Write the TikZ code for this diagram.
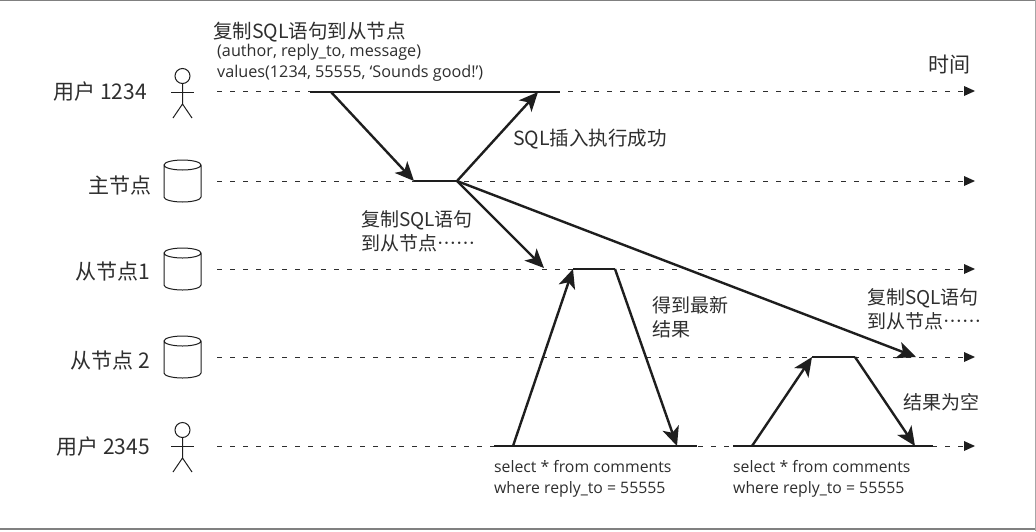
\documentclass[tikz,border=0pt]{standalone}
\usepackage{fontspec}
\setmainfont{Open Sans}
\newfontfamily\cjk{Noto Sans CJK SC}[Script=CJK,Language=Chinese Simplified]
\usetikzlibrary{arrows.meta}
\definecolor{ink}{HTML}{1E1E1E}
\definecolor{soft}{HTML}{2E2E2E}
\tikzset{
  x=1pt,y=-1pt,
  lab/.style={inner sep=0pt,text=soft,font=\fontsize{21}{24}\selectfont\cjk,anchor=east},
  note/.style={inner sep=0pt,text=soft,font=\fontsize{19}{24}\selectfont\cjk,align=left,anchor=west},
  widenote/.style={note,font=\fontsize{19.5}{24}\selectfont\cjk},
  code/.style={inner sep=0pt,text=soft,font=\fontsize{15.8}{21.5}\selectfont,align=left,anchor=west},
  timeline/.style={draw=soft,line width=1pt,dash pattern=on 5pt off 8pt},
  exec/.style={draw=ink,line width=2.4pt},
  msg/.style={draw=ink,line width=2.4pt,-{Stealth[length=19pt,width=17pt,inset=5pt]}},
  dbanchor/.style={inner sep=0pt,minimum width=37pt,minimum height=42pt},
  limb/.style={draw=ink,line width=1pt},
}
\begin{document}
\begin{tikzpicture}
\useasboundingbox (0,0) rectangle (1036,531);
\fill[white] (0,0) rectangle (1036,531);
\draw[gray,line width=1.5pt] (0,0.7) -- (1036,0.7);
\draw[gray,line width=1.5pt] (0,529) -- (1036,529);
\draw[gray!70,line width=0.8pt] (1035.5,0) -- (1035.5,531);

% lanes
\foreach \n/\y in {a/91,b/181,c/269,d/357,e/446}{
  \coordinate (\n0) at (217,\y);
  \coordinate (\n1) at (964,\y);
  \draw[timeline] (\n0) -- (\n1);
  \fill[ink] (964,\y-5) -- (975,\y) -- (964,\y+5) -- cycle;
}

% lane labels
\node[lab] (l1) at (147,92) {用户 1234};
\node[lab] (l2) at (152,186) {主节点};
\node[lab] (l3) at (150,272) {从节点1};
\node[lab] (l4) at (150,361) {从节点 2};
\node[lab] (l5) at (150,447) {用户 2345};

% actors
\foreach \n/\y in {u/76,v/430}{
  \node[circle,draw=ink,line width=1pt,minimum size=15pt,inner sep=0pt] (\n) at (182.5,\y) {};
  \draw[limb] (\n.south) -- ++(0,20) coordinate (\n h) -- ++(-9.5,14) (\n h) -- ++(9.5,14);
  \draw[limb] (171,\y+16) -- (194,\y+16);
}

% databases
\foreach \n/\y in {m/181,s1/269,s2/357}{
  \node[dbanchor] (\n) at (182.5,\y) {};
  \draw[limb] (164,\y-16) -- (164,\y+16) arc[start angle=180,end angle=360,x radius=18.5,y radius=-5]
     -- (201,\y-16) arc[start angle=0,end angle=180,x radius=18.5,y radius=-5]
     arc[start angle=180,end angle=360,x radius=18.5,y radius=-5];
}

% execution bars and message ends
\coordinate (p1) at (310,92); \coordinate (p2) at (560,92);
\coordinate (p3) at (331,92);
\coordinate (q1) at (414,181); \coordinate (q2) at (457,181);
\coordinate (r1) at (544,268);
\coordinate (r2) at (916,357);
\coordinate (t1) at (494,446); \coordinate (t2) at (697,446);
\coordinate (t3) at (513,446); \coordinate (t4) at (677,446);
\coordinate (k1) at (573,269); \coordinate (k2) at (615,269);
\coordinate (w1) at (733,446); \coordinate (w2) at (933,446);
\coordinate (w3) at (752,446); \coordinate (w4) at (915,446);
\coordinate (h1) at (812,357); \coordinate (h2) at (855,357);
\coordinate (z1) at (538,92);

\draw[exec] (p1) -- (p2);
\draw[exec] (q1) -- (q2);
\draw[exec] (t1) -- (t2);
\draw[exec] (w1) -- (w2);
\draw[exec] (k1) -- (k2);
\draw[exec] (h1) -- (h2);

\draw[msg] (p3) -- (q1);
\draw[msg] (q2) -- (z1);
\draw[msg] (q2) -- (r1);
\draw[msg] (q2) -- (r2);
\draw[msg] (t3) -- (k1);
\draw[msg] (k2) -- (t4);
\draw[msg] (w3) -- (h1);
\draw[msg] (h2) -- (w4);

% notes
\node[widenote] (n1) at (213,32) {复制SQL语句到从节点};
\node[code,font=\fontsize{16.2}{21.5}\selectfont] (n2) at (217,63) {(author, reply\_to, message)\\values(1234, 55555, ‘Sounds good!’)};
\node[widenote] (n3) at (513,139) {SQL插入执行成功};
\node[note] (n4) at (361,231) {复制SQL语句\\到从节点……};
\node[note] (n5) at (652,317) {得到最新\\结果};
\node[note] (n6) at (867,309) {复制SQL语句\\到从节点……};
\node[note] (n7) at (903,402) {结果为空};
\node[note,font=\fontsize{21}{24}\selectfont\cjk] (n8) at (928,65) {时间};
\node[code] (n9) at (494,479) {select * from comments\\where reply\_to = 55555};
\node[code] (n10) at (733,479) {select * from comments\\where reply\_to = 55555};
\end{tikzpicture}
\end{document}
